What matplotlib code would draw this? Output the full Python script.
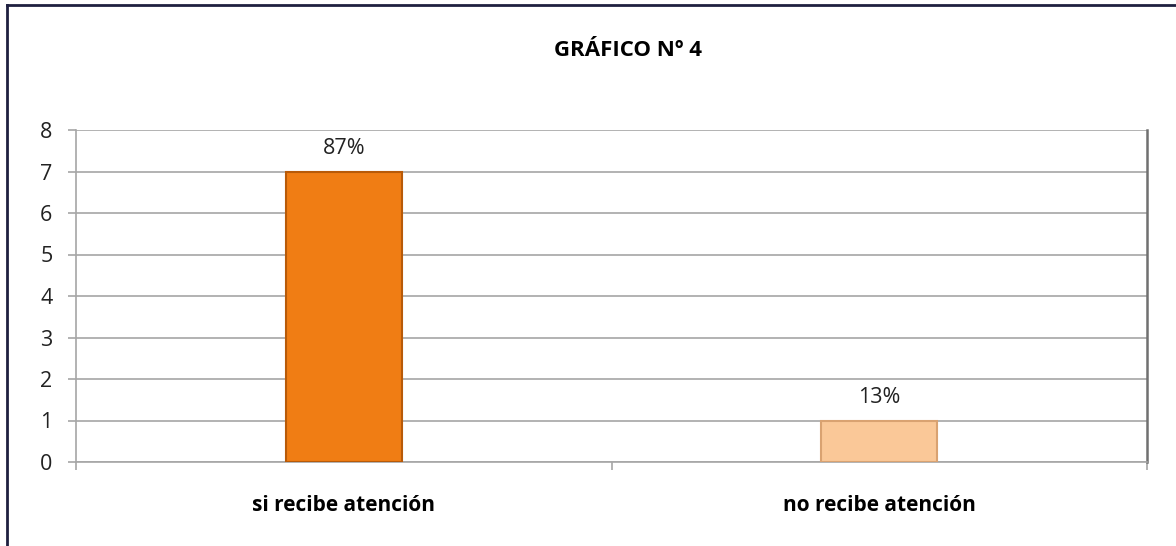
import matplotlib
matplotlib.use("Agg")
import matplotlib.pyplot as plt
from matplotlib.lines import Line2D

plt.rcParams["font.family"] = ["Open Sans", "DejaVu Sans"]

# Datos
categorias = ["si recibe atención", "no recibe atención"]
valores = [7, 1]
porcentajes = ["87%", "13%"]
colores = ["#F07D14", "#FAC898"]
bordes = ["#B85A08", "#D9A271"]

fig = plt.figure(figsize=(11.76, 5.46), dpi=100)
ax = fig.add_axes([76/1176, 1-462/546, (1147-76)/1176, (462-130)/546])

x = list(range(len(categorias)))
ax.bar(x, valores, width=0.217, color=colores, edgecolor=bordes, linewidth=1.5, zorder=3)

for xi, v, p in zip(x, valores, porcentajes):
    ax.annotate(p, (xi, v), xytext=(0, 9), textcoords="offset points",
                ha="center", va="bottom", fontsize=15.5, color="#222222")

ax.set_xlim(-0.5, 1.5)
ax.set_ylim(0, 8)
ax.set_yticks(range(0, 9))
ax.yaxis.grid(True, color="#A6A6A6", linewidth=1.2, zorder=0)

# ticks del eje x en los limites de categoria, etiquetas en el centro
ax.set_xticks([-0.5, 0.5, 1.5])
ax.set_xticklabels([])
ax.set_xticks(x, minor=True)
ax.set_xticklabels(categorias, minor=True, fontsize=15, fontweight="bold")
ax.tick_params(axis="x", which="minor", length=0, pad=24)
ax.tick_params(axis="x", which="major", length=6, color="#A6A6A6", width=1.2)
ax.tick_params(axis="y", length=6, color="#A6A6A6", width=1.2, labelsize=15.5, labelcolor="#222222", pad=11)

ax.spines["top"].set_visible(False)
ax.spines["left"].set_color("#A6A6A6")
ax.spines["left"].set_linewidth(1.2)
ax.spines["bottom"].set_color("#A6A6A6")
ax.spines["bottom"].set_linewidth(1.2)
ax.spines["right"].set_color("#707070")
ax.spines["right"].set_linewidth(1.8)

fig.text(628/1176, 1-50/546, "GRÁFICO Nº 4", ha="center", va="center", fontsize=16, fontweight="bold")

# marco del grafico
fig.add_artist(Line2D([7/1176, 1], [1-5/546, 1-5/546], color="#1F2040", linewidth=2, transform=fig.transFigure))
fig.add_artist(Line2D([7/1176, 7/1176], [0, 1-5/546], color="#1F2040", linewidth=2, transform=fig.transFigure))

plt.savefig("out.png", dpi=100)
